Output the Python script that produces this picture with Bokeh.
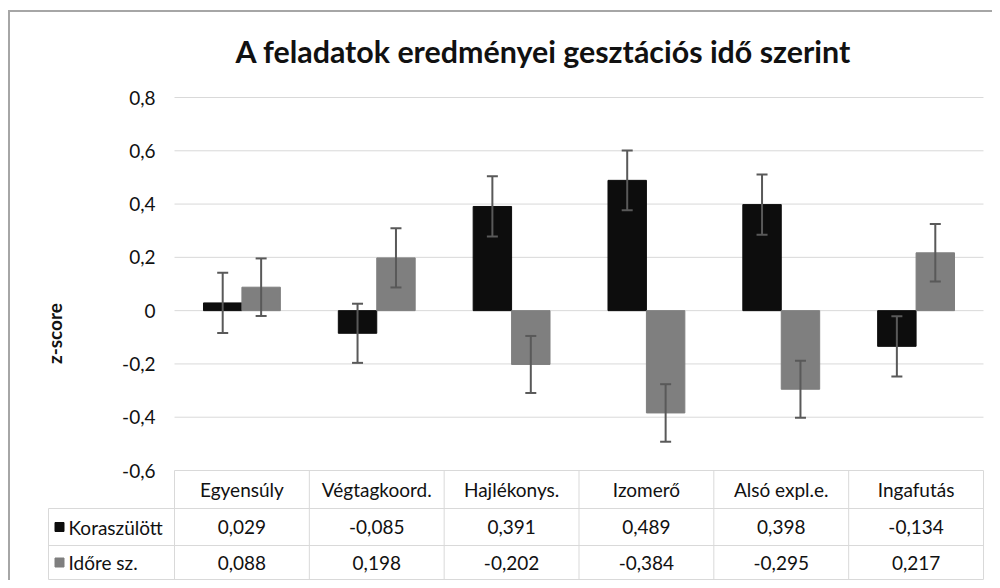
from bokeh.plotting import figure
from bokeh.models import Range1d, FixedTicker, CustomJSTickFormatter, ColumnDataSource, Whisker, TeeHead, Title
from bokeh.embed import file_html
from bokeh.resources import INLINE
from bokeh.core.properties import value

# ---------------- data ----------------
categories = ["Egyensúly", "Végtagkoord.", "Hajlékonys.", "Izomerő", "Alsó expl.e.", "Ingafutás"]
series_names = ["Koraszülött", "Időre sz."]
koraszulott = [0.029, -0.085, 0.391, 0.489, 0.398, -0.134]
idore = [0.088, 0.198, -0.202, -0.384, -0.295, 0.217]
koraszulott_err = [0.113, 0.111, 0.113, 0.112, 0.113, 0.113]
idore_err = [0.108, 0.111, 0.107, 0.108, 0.107, 0.108]
y_ticks = [-0.6, -0.4, -0.2, 0, 0.2, 0.4, 0.6, 0.8]
title_text = "A feladatok eredményei gesztációs idő szerint"
y_label = "z-score"

# ---------------- style / layout ----------------
FONT = "Lato"
FS = "19px"
TXT = "#111111"
GRID = "#d9d9d9"
C_K = "#0d0d0d"
C_I = "#7f7f7f"
ERR = "#595959"
N = len(categories)
BAR_W = 0.285
OFF = 0.1425
XPX = 134.83           # pixels per category
YPX = 373 / 1.4        # pixels per z-score unit
LEG = 126 / XPX        # legend column width of the table (category units)
Y_TOP = y_ticks[-1]
Y_AX = y_ticks[0]
HB = Y_AX - 38 / YPX   # header row bottom
R1B = HB - 37 / YPX    # first data row bottom
R2B = R1B - 34 / YPX   # second data row bottom

p = figure(width=984, height=570,
           x_range=Range1d(-127 / XPX, N + 2 / XPX),
           y_range=Range1d(Y_AX - 111 / YPX, Y_TOP + 12 / YPX),
           output_backend="svg", toolbar_location=None, x_axis_location=None,
           min_border_left=37, min_border_right=9, min_border_top=73, min_border_bottom=1)
p.outline_line_color = None
p.grid.visible = False
p.margin = (10, 0, 0, 8)
p.styles = {"border-left": "2px solid #a6a6a6", "border-top": "2px solid #a6a6a6"}

p.title = Title(text=title_text, align="left", offset=188, text_font=FONT,
                text_font_size="30.4px", text_font_style="bold", text_color=TXT, standoff=34)

# gridlines of the value axis
p.segment(x0=0, x1=N, y0=y_ticks, y1=y_ticks, line_color=GRID, line_width=1)

xs = [i + 0.5 for i in range(N)]
src = ColumnDataSource(dict(
    xk=[x - OFF for x in xs], xi=[x + OFF for x in xs],
    k=koraszulott, i=idore,
    k_up=[v + e for v, e in zip(koraszulott, koraszulott_err)],
    k_lo=[v - e for v, e in zip(koraszulott, koraszulott_err)],
    i_up=[v + e for v, e in zip(idore, idore_err)],
    i_lo=[v - e for v, e in zip(idore, idore_err)],
))
p.vbar(x="xk", top="k", bottom=0, width=BAR_W, color=C_K, source=src)
p.vbar(x="xi", top="i", bottom=0, width=BAR_W, color=C_I, source=src)
for base, up, lo in (("xk", "k_up", "k_lo"), ("xi", "i_up", "i_lo")):
    p.add_layout(Whisker(source=src, base=base, upper=up, lower=lo, level="annotation",
                         line_color=ERR, line_width=2,
                         upper_head=TeeHead(size=11, line_color=ERR, line_width=2),
                         lower_head=TeeHead(size=11, line_color=ERR, line_width=2)))

# y axis drawn at the left edge of the category area
ax = p.yaxis[0]
ax.fixed_location = 0
ax.ticker = FixedTicker(ticks=y_ticks)
ax.formatter = CustomJSTickFormatter(code="""
    if (Math.abs(tick) < 1e-9) { return "0"; }
    return tick.toFixed(1).replace(".", ",");
""")
ax.axis_line_color = None
ax.major_tick_line_color = None
ax.minor_tick_line_color = None
ax.major_tick_out = 0
ax.major_label_standoff = 19
ax.major_label_text_font = FONT
ax.major_label_text_font_size = FS
ax.major_label_text_color = TXT
ax.axis_label = y_label
ax.axis_label_text_font = FONT
ax.axis_label_text_font_size = FS
ax.axis_label_text_font_style = "bold"
ax.axis_label_text_color = TXT
ax.axis_label_standoff = 53

# ---------------- data table ----------------
# horizontal rules
p.segment(x0=-LEG, x1=N, y0=[HB, R1B, R2B], y1=[HB, R1B, R2B], line_color=GRID, line_width=1)
# vertical rules
p.segment(x0=list(range(N + 1)), x1=list(range(N + 1)), y0=Y_AX, y1=R2B, line_color=GRID, line_width=1)
p.segment(x0=[-LEG], x1=[-LEG], y0=[HB], y1=[R2B], line_color=GRID, line_width=1)

# header row (categories)
p.text(x=xs, y=(Y_AX + HB) / 2, text=categories, text_align="center", text_baseline="middle",
       text_font=value(FONT), text_font_size=FS, text_color=TXT)

def fmt(v):
    return f"{v:.3f}".replace(".", ",")

rows = [(koraszulott, (HB + R1B) / 2, C_K, series_names[0]),
        (idore, (R1B + R2B) / 2, C_I, series_names[1])]
for vals, yc, col, name in rows:
    p.text(x=xs, y=yc, text=[fmt(v) for v in vals], text_align="center",
           text_baseline="middle", text_font=value(FONT), text_font_size=FS, text_color=TXT)
    p.scatter(x=[-LEG + 11 / XPX], y=[yc], marker="square", size=9, color=col)
    p.text(x=[-LEG + 20 / XPX], y=[yc], text=[name], text_align="left",
           text_baseline="middle", text_font=value(FONT), text_font_size=FS, text_color=TXT)

open("out.html", "w").write(file_html(p, INLINE))
